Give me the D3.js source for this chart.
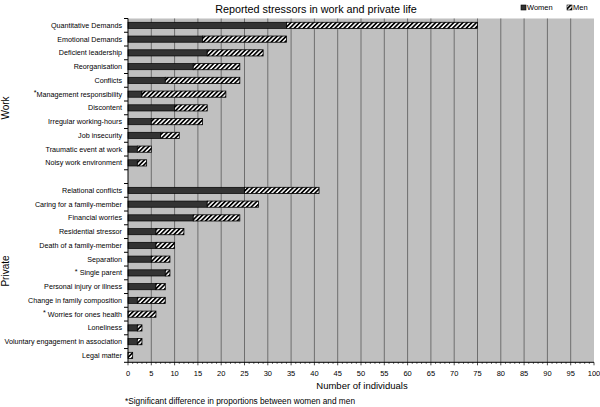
<!doctype html>
<html>
<head>
<meta charset="utf-8">
<title>Reported stressors in work and private life</title>
<script src="https://d3js.org/d3.v7.min.js"></script>
<style>
  body { margin: 0; background: #fff; }
  text { font-family: "Liberation Sans", Arial, sans-serif; fill: #000; }
</style>
</head>
<body>
<script>

// data (number of individuals)
const workCats  = ["Quantitative Demands", "Emotional Demands", "Deficient leadership", "Reorganisation",
                   "Conflicts", "*Management responsibility", "Discontent", "Irregular working-hours",
                   "Job insecurity", "Traumatic event at work", "Noisy work environment"];
const workWomen = [34, 16, 17, 14, 8, 3, 10, 5, 7, 2, 2];
const workMen   = [41, 18, 12, 10, 16, 18, 7, 11, 4, 3, 2];

const privateCats  = ["Relational conflicts", "Caring for a family-member", "Financial worries",
                      "Residential stressor", "Death of a family-member", "Separation", "* Single parent",
                      "Personal injury or illness", "Change in family composition", "* Worries for ones health",
                      "Loneliness", "Voluntary engagement in association", "Legal matter"];
const privateWomen = [25, 17, 14, 6, 6, 5, 8, 6, 2, 0, 2, 2, 0];
const privateMen   = [16, 11, 10, 6, 4, 4, 1, 2, 6, 6, 1, 1, 1];

const xTicks = d3.range(0, 101, 5);

const w = 600, h = 407;
const pLeft = 128, pRight = 594, pTop = 18.5, pBottom = 362.3;

// one empty row separates the two groups
const rows = [];
workCats.forEach((c, i) => rows.push({key: "w" + i, label: c, women: workWomen[i], men: workMen[i]}));
rows.push({key: "gap", label: "", women: 0, men: 0});
privateCats.forEach((c, i) => rows.push({key: "p" + i, label: c, women: privateWomen[i], men: privateMen[i]}));

const svg = d3.select("body").append("svg")
  .attr("width", w)
  .attr("height", h);

const defs = svg.append("defs");
const pat = defs.append("pattern")
  .attr("id", "hatch")
  .attr("patternUnits", "userSpaceOnUse")
  .attr("width", 3.2)
  .attr("height", 3.2)
  .attr("patternTransform", "rotate(45)");
pat.append("rect").attr("width", 3.2).attr("height", 3.2).attr("fill", "#fff");
pat.append("rect").attr("width", 1.7).attr("height", 3.2).attr("fill", "#000");

const x = d3.scaleLinear().domain([0, 100]).range([pLeft, pRight]);
const y = d3.scaleBand()
  .domain(rows.map(d => d.key))
  .range([pTop, pBottom])
  .paddingInner(0.55)
  .paddingOuter(0.275);

// plot background
svg.append("rect")
  .attr("x", pLeft).attr("y", pTop)
  .attr("width", pRight - pLeft).attr("height", pBottom - pTop)
  .attr("fill", "#c0c0c0");

// grid lines
svg.append("g").selectAll("line")
  .data(xTicks.filter(t => t > 0 && t < 100))
  .join("line")
  .attr("x1", d => x(d)).attr("x2", d => x(d))
  .attr("y1", pTop).attr("y2", pBottom)
  .attr("stroke", "#6e6e6e")
  .attr("stroke-width", 1);

// bars
const bars = svg.append("g");
bars.selectAll("rect.women")
  .data(rows.filter(d => d.women > 0))
  .join("rect")
  .attr("class", "women")
  .attr("x", d => x(0))
  .attr("y", d => y(d.key))
  .attr("width", d => x(d.women) - x(0))
  .attr("height", y.bandwidth())
  .attr("fill", "#333")
  .attr("stroke", "#000")
  .attr("stroke-width", 0.7);

bars.selectAll("rect.men")
  .data(rows.filter(d => d.men > 0))
  .join("rect")
  .attr("class", "men")
  .attr("x", d => x(d.women))
  .attr("y", d => y(d.key))
  .attr("width", d => x(d.women + d.men) - x(d.women))
  .attr("height", y.bandwidth())
  .attr("fill", "url(#hatch)")
  .attr("stroke", "#000")
  .attr("stroke-width", 0.8);

// y axis: line, ticks between rows, labels
const yAxis = svg.append("g");
yAxis.append("line")
  .attr("x1", pLeft).attr("x2", pLeft)
  .attr("y1", pTop).attr("y2", pBottom)
  .attr("stroke", "#000");
yAxis.selectAll("line.tick")
  .data(d3.range(rows.length + 1))
  .join("line")
  .attr("class", "tick")
  .attr("x1", pLeft - 4).attr("x2", pLeft)
  .attr("y1", i => pTop + i * y.step())
  .attr("y2", i => pTop + i * y.step())
  .attr("stroke", "#000");
const yLabels = yAxis.selectAll("text")
  .data(rows.filter(d => d.label))
  .join("text")
  .attr("x", pLeft - 6)
  .attr("y", d => y(d.key) + y.bandwidth() / 2 + 2.5)
  .attr("text-anchor", "end")
  .attr("font-size", 7.2);
// a leading asterisk is drawn raised, like a footnote mark
yLabels.each(function(d) {
  const t = d3.select(this);
  if (d.label.startsWith("*")) {
    t.append("tspan").attr("dy", -1.5).text("*");
    t.append("tspan").attr("dy", 1.5).text(d.label.slice(1));
  } else {
    t.text(d.label);
  }
});

// x axis
const xAxis = svg.append("g");
xAxis.append("line")
  .attr("x1", pLeft).attr("x2", pRight)
  .attr("y1", pBottom).attr("y2", pBottom)
  .attr("stroke", "#000");
xAxis.selectAll("line.minor")
  .data(d3.range(0, 101, 1))
  .join("line")
  .attr("class", "minor")
  .attr("x1", d => x(d)).attr("x2", d => x(d))
  .attr("y1", pBottom).attr("y2", d => pBottom + (d % 5 === 0 ? 3 : 1.5))
  .attr("stroke", "#000")
  .attr("stroke-width", 0.7);
xAxis.selectAll("text")
  .data(xTicks)
  .join("text")
  .attr("x", d => x(d))
  .attr("y", 376)
  .attr("text-anchor", "middle")
  .attr("font-size", 7.5)
  .text(d => d);

svg.append("text")
  .attr("x", 362).attr("y", 389)
  .attr("text-anchor", "middle")
  .attr("font-size", 9.5)
  .text("Number of individuals");

svg.append("text")
  .attr("x", 125).attr("y", 404)
  .attr("font-size", 8.3)
  .text("*Significant difference in proportions between women and men");

// group labels
svg.append("text")
  .attr("transform", "translate(9,108) rotate(-90)")
  .attr("text-anchor", "middle")
  .attr("font-size", 10)
  .text("Work");
svg.append("text")
  .attr("transform", "translate(9,271) rotate(-90)")
  .attr("text-anchor", "middle")
  .attr("font-size", 10)
  .text("Private");

// title
svg.append("text")
  .attr("x", 316).attr("y", 13)
  .attr("text-anchor", "middle")
  .attr("font-size", 10.8)
  .text("Reported stressors in work and private life");

// legend
const legend = [{name: "Women", fill: "#333", x: 521}, {name: "Men", fill: "url(#hatch)", x: 567}];
const lg = svg.append("g").selectAll("g").data(legend).join("g");
lg.append("rect")
  .attr("x", d => d.x).attr("y", 5)
  .attr("width", 5).attr("height", 5)
  .attr("fill", d => d.fill)
  .attr("stroke", "#000")
  .attr("stroke-width", 0.6);
lg.append("text")
  .attr("x", d => d.x + 6).attr("y", 10)
  .attr("font-size", 7.5)
  .text(d => d.name);

</script>
</body>
</html>
